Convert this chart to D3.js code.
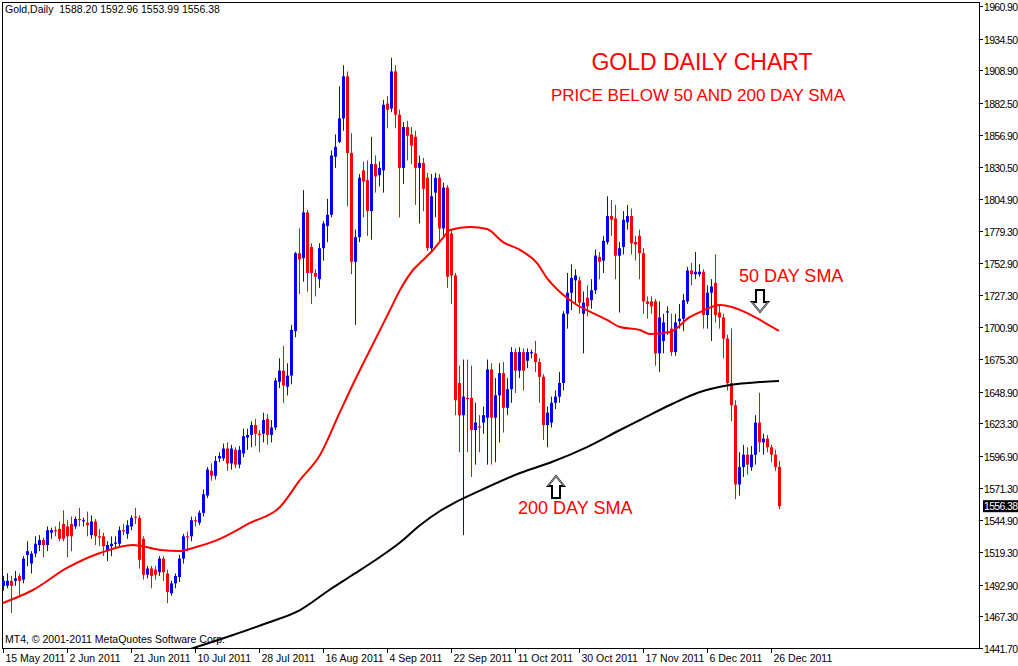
<!DOCTYPE html>
<html>
<head>
<meta charset="utf-8">
<script src="https://cdn.jsdelivr.net/npm/d3@7"></script>
<style>
  body { margin: 0; background: #fff; }
  svg { display: block; }
  text { font-family: "Liberation Sans", Arial, sans-serif; }
</style>
</head>
<body>
<svg id="chart" width="1018" height="666"></svg>
<script>
// daily candles [open, high, low, close], one per bar
const candles = [
[1492,1500,1488,1496],[1492,1502,1490,1496],[1496,1500,1470,1492],[1496,1504,1492,1498],[1500,1502,1484,1496],
[1497,1516,1494,1514],[1517,1528,1508,1520],[1510,1520,1502,1518],[1518,1532,1515,1526],[1525,1533,1520,1529],
[1529,1531,1515,1525],[1525,1540,1520,1537],[1535,1539,1530,1537],[1537,1540,1532,1536],[1538,1544,1528,1530],
[1542,1553,1528,1530],[1540,1545,1515,1532],[1542,1548,1520,1532],[1540,1548,1538,1546],[1546,1555,1540,1545],
[1544,1547,1540,1545],[1543,1552,1532,1541],[1533,1549,1530,1544],[1544,1546,1525,1532],[1532,1538,1524,1531],
[1532,1535,1516,1524],[1520,1528,1512,1525],[1524,1532,1516,1526],[1526,1532,1522,1527],[1526,1540,1524,1537],
[1537,1542,1533,1536],[1534,1545,1530,1541],[1540,1549,1537,1547],[1548,1555,1542,1547],[1547,1549,1506,1513],
[1530,1532,1497,1501],[1501,1508,1498,1506],[1506,1508,1490,1500],[1505,1508,1497,1501],[1503,1516,1500,1514],
[1514,1516,1496,1503],[1502,1505,1478,1487],[1486,1496,1484,1494],[1494,1502,1490,1500],[1499,1517,1495,1514],
[1514,1534,1510,1532],[1532,1536,1520,1531],[1532,1548,1528,1545],[1545,1548,1540,1544],[1543,1553,1541,1551],
[1551,1570,1548,1566],[1565,1588,1563,1586],[1585,1591,1577,1581],[1581,1597,1578,1593],[1595,1600,1592,1597],
[1595,1607,1593,1603],[1603,1608,1585,1591],[1591,1606,1586,1603],[1602,1604,1587,1590],[1590,1605,1587,1602],
[1599,1619,1596,1613],[1612,1619,1602,1614],[1614,1625,1604,1622],[1622,1627,1605,1615],[1615,1618,1600,1614],
[1615,1632,1608,1626],[1627,1631,1606,1614],[1614,1626,1608,1620],[1620,1660,1618,1658],[1657,1676,1652,1666],
[1666,1686,1640,1654],[1653,1672,1646,1662],[1662,1703,1655,1699],[1698,1762,1693,1761],[1761,1781,1728,1756],
[1757,1812,1738,1794],[1794,1796,1730,1745],[1766,1769,1720,1745],[1745,1748,1726,1742],[1740,1769,1733,1765],
[1765,1787,1755,1785],[1783,1805,1770,1792],[1792,1844,1790,1840],[1839,1857,1830,1847],[1851,1896,1850,1870],
[1870,1913,1860,1904],[1904,1908,1799,1842],[1842,1858,1744,1754],[1754,1780,1703,1774],[1774,1825,1770,1822],
[1828,1835,1790,1819],[1820,1836,1775,1795],[1795,1855,1772,1833],[1833,1840,1810,1823],[1824,1835,1815,1830],
[1828,1885,1810,1881],[1882,1888,1862,1877],[1878,1919,1875,1908],[1908,1913,1862,1873],[1873,1877,1790,1830],
[1830,1867,1817,1863],[1863,1868,1836,1856],[1857,1863,1833,1848],[1855,1860,1800,1830],[1830,1840,1785,1834],
[1834,1838,1795,1813],[1822,1826,1763,1765],[1765,1825,1762,1807],[1810,1826,1790,1822],[1822,1825,1770,1781],
[1781,1818,1775,1814],[1814,1816,1733,1742],[1777,1780,1720,1743],[1743,1745,1630,1642],[1656,1670,1600,1630],
[1630,1675,1533,1645],[1644,1675,1600,1643],[1644,1670,1580,1618],[1618,1640,1590,1624],[1621,1630,1600,1620],
[1624,1637,1615,1630],[1628,1675,1590,1667],[1667,1672,1590,1628],[1628,1660,1592,1646],[1646,1672,1608,1664],
[1664,1673,1616,1636],[1636,1660,1630,1651],[1651,1685,1640,1681],[1681,1684,1648,1666],[1666,1685,1660,1681],
[1681,1684,1650,1666],[1674,1684,1668,1681],[1680,1683,1676,1681],[1680,1690,1665,1673],[1673,1676,1640,1661],
[1661,1663,1610,1622],[1622,1637,1604,1632],[1624,1645,1620,1640],[1640,1650,1635,1645],[1645,1665,1640,1656],
[1656,1714,1650,1712],[1712,1745,1700,1729],[1729,1752,1715,1741],[1739,1748,1720,1743],[1739,1742,1712,1721],
[1712,1730,1680,1721],[1725,1735,1710,1718],[1723,1740,1716,1731],[1731,1764,1728,1759],[1758,1762,1740,1754],
[1755,1775,1745,1771],[1770,1807,1768,1791],[1791,1804,1775,1788],[1789,1800,1740,1759],[1759,1770,1713,1765],
[1766,1795,1760,1788],[1786,1800,1780,1791],[1791,1797,1760,1769],[1770,1775,1755,1768],[1775,1780,1740,1761],
[1761,1765,1712,1722],[1722,1726,1708,1720],[1722,1726,1712,1718],[1722,1724,1670,1680],[1680,1722,1665,1709],
[1690,1712,1680,1705],[1713,1718,1695,1714],[1700,1712,1678,1681],[1681,1712,1678,1705],[1706,1720,1700,1708],
[1708,1728,1698,1723],[1722,1750,1720,1747],[1747,1753,1735,1744],[1744,1762,1740,1746],[1744,1752,1742,1746],
[1746,1748,1700,1711],[1711,1735,1700,1729],[1729,1740,1690,1734],[1737,1760,1705,1711],[1713,1720,1700,1709],
[1709,1712,1676,1692],[1692,1695,1650,1656],[1656,1700,1625,1638],[1638,1642,1562,1574],[1574,1600,1565,1588],
[1588,1606,1580,1598],[1598,1604,1582,1590],[1588,1605,1585,1598],[1598,1630,1590,1624],[1624,1648,1600,1608],
[1608,1615,1598,1611],[1611,1614,1600,1604],[1604,1606,1592,1598],[1598,1602,1585,1588],[1588.20,1592.96,1553.99,1556.38]
];

// moving averages, [bar index, value]
const sma50 = [
[0,1478.1],[7.5,1488.6],[16,1506.4],[24.25,1518.5],[32.5,1525.0],[39.25,1521.0],[44.25,1520.1],[47.5,1522.6],
[53.5,1529.0],[61.75,1542.8],[69.25,1555.7],[74.25,1577.6],[79.25,1597.8],[84.25,1632.6],[88,1658.4],[93,1690.8],
[96.75,1715.0],[99.25,1731.2],[102.5,1747.4],[105,1755.5],[107.5,1763.6],[110,1773.3],[111.75,1779.7],[116.75,1782.2],
[121,1780.5],[125,1770.0],[129.25,1763.6],[133.5,1753.0],[136,1740.9],[139.25,1729.6],[143.5,1719.1],[147.5,1712.6],
[151,1707.0],[154.25,1701.3],[159.25,1698.9],[161.75,1695.6],[166.75,1697.2],[171.75,1709.4],[174.25,1713.4],
[179.25,1719.1],[183,1716.7],[185.5,1713.4],[189.25,1707.0],[194,1698.1]
];
const sma200 = [
[46,1440.0],[57.5,1452.2],[66,1461.9],[74.25,1472.4],[81.75,1489.0],[86.75,1499.5],[94.25,1515.3],[99.25,1527.0],
[104.25,1541.0],[109.25,1552.5],[112.5,1558.5],[119.25,1569.0],[129.25,1583.2],[137.5,1592.5],[146,1604.2],
[154.25,1618.0],[159.25,1626.1],[166.75,1638.2],[174.25,1648.7],[181.75,1654.4],[189.25,1656.8],[194,1657.6]
];

const priceTicks = [1960.90,1934.50,1908.90,1882.50,1856.90,1830.50,1804.90,1779.30,1752.90,1727.30,1700.90,
  1675.30,1648.90,1623.30,1596.90,1571.30,1544.90,1519.30,1492.90,1467.30,1441.70];
const dateTicks = [[0,"15 May 2011"],[16,"2 Jun 2011"],[32,"21 Jun 2011"],[48,"10 Jul 2011"],[64,"28 Jul 2011"],
  [80,"16 Aug 2011"],[96,"4 Sep 2011"],[112,"22 Sep 2011"],[128,"11 Oct 2011"],[144,"30 Oct 2011"],
  [160,"17 Nov 2011"],[176,"6 Dec 2011"],[192,"26 Dec 2011"]];
const lastPrice = 1556.38;

const svg = d3.select("#chart");
const plot = {left: 2, top: 2, right: 979, bottom: 648};

const x = d3.scaleLinear().domain([0, 194]).range([3, 779]);
const y = d3.scaleLinear().domain([1441.7, 1960.9]).range([648, 6]);

svg.append("defs").append("clipPath").attr("id", "clip")
  .append("rect").attr("x", plot.left).attr("y", plot.top)
  .attr("width", plot.right - plot.left).attr("height", plot.bottom - plot.top);

// frame
svg.append("rect").attr("x", plot.left + 0.5).attr("y", plot.top + 0.5)
  .attr("width", plot.right - plot.left).attr("height", plot.bottom - plot.top)
  .attr("fill", "none").attr("stroke", "#000");

// price axis
const ya = svg.append("g");
priceTicks.forEach(p => {
  const yy = Math.round(y(p)) + 0.5;
  ya.append("line").attr("x1", plot.right).attr("x2", plot.right + 4).attr("y1", yy).attr("y2", yy).attr("stroke", "#000");
  ya.append("text").attr("x", plot.right + 5).attr("y", yy + 4).attr("font-size", 10.5).attr("textLength", 34).text(p.toFixed(2));
});

// date axis
const xa = svg.append("g");
dateTicks.forEach(([i, lbl]) => {
  const xx = Math.round(x(i)) + 0.5;
  xa.append("line").attr("x1", xx).attr("x2", xx).attr("y1", plot.bottom).attr("y2", plot.bottom + 5).attr("stroke", "#000");
  xa.append("text").attr("x", xx + 2).attr("y", 662).attr("font-size", 10.5).text(lbl);
});

const g = svg.append("g").attr("clip-path", "url(#clip)");

// candles
candles.forEach((c, i) => {
  const [o, h, l, cl] = c;
  const col = cl >= o ? "#0000ff" : "#ff0000";
  const cx = Math.round(x(i)) + 0.5;
  g.append("line").attr("x1", cx).attr("x2", cx).attr("y1", y(h)).attr("y2", y(l))
    .attr("stroke", col).attr("stroke-width", 1);
  const top = y(Math.max(o, cl)), bot = y(Math.min(o, cl));
  g.append("rect").attr("x", cx - 1.5).attr("y", top).attr("width", 3)
    .attr("height", Math.max(1, bot - top)).attr("fill", col);
});

const line = d3.line().x(d => x(d[0])).y(d => y(d[1])).curve(d3.curveMonotoneX);
g.append("path").attr("d", line(sma50)).attr("fill", "none").attr("stroke", "#ff0000").attr("stroke-width", 2);
g.append("path").attr("d", line(sma200)).attr("fill", "none").attr("stroke", "#000").attr("stroke-width", 2);

// last price marker
const ly = y(lastPrice);
svg.append("rect").attr("x", plot.right + 4).attr("y", ly - 6).attr("width", 38).attr("height", 12).attr("fill", "#000");
svg.append("text").attr("x", plot.right + 5).attr("y", ly + 4).attr("font-size", 10.5).attr("textLength", 34)
  .attr("fill", "#fff").text(lastPrice.toFixed(2));

// header and credits
svg.append("text").attr("x", 5).attr("y", 13).attr("font-size", 10.5)
  .text("Gold,Daily  1588.20 1592.96 1553.99 1556.38").attr("xml:space", "preserve");
svg.append("text").attr("x", 5).attr("y", 643).attr("font-size", 10.5).text("MT4, © 2001-2011 MetaQuotes Software Corp.");

// annotations
const ann = svg.append("g").attr("fill", "#ff0000").style("font-family", "'Liberation Sans', Arial, sans-serif");
ann.append("text").attr("x", 702).attr("y", 70).attr("text-anchor", "middle").attr("font-size", 23).text("GOLD DAILY CHART");
ann.append("text").attr("x", 698).attr("y", 101).attr("text-anchor", "middle").attr("font-size", 17).text("PRICE BELOW 50 AND 200 DAY SMA");
ann.append("text").attr("x", 739).attr("y", 282).attr("font-size", 18).text("50 DAY SMA");
ann.append("text").attr("x", 518).attr("y", 514).attr("font-size", 18).text("200 DAY SMA");

// hollow arrows
function arrow(cx, tip, dir) {
  // dir = 1 points down, -1 points up
  const s = dir;
  const base = tip - s * 10, end = base - s * 12;
  const pts = [[cx - 4, end], [cx + 4, end], [cx + 4, base], [cx + 8, base], [cx, tip], [cx - 8, base], [cx - 4, base]];
  svg.append("path").attr("d", "M" + pts.map(p => p.join(",")).join("L") + "Z")
    .attr("fill", "#fff").attr("stroke", "#000").attr("stroke-width", 2);
  svg.append("path").attr("d", `M${cx + 8},${base}L${cx},${tip}L${cx - 8},${base}`)
    .attr("fill", "none").attr("stroke", "#999").attr("stroke-width", 1.2);
}
arrow(760, 312, 1);
arrow(556, 476, -1);
</script>
</body>
</html>
